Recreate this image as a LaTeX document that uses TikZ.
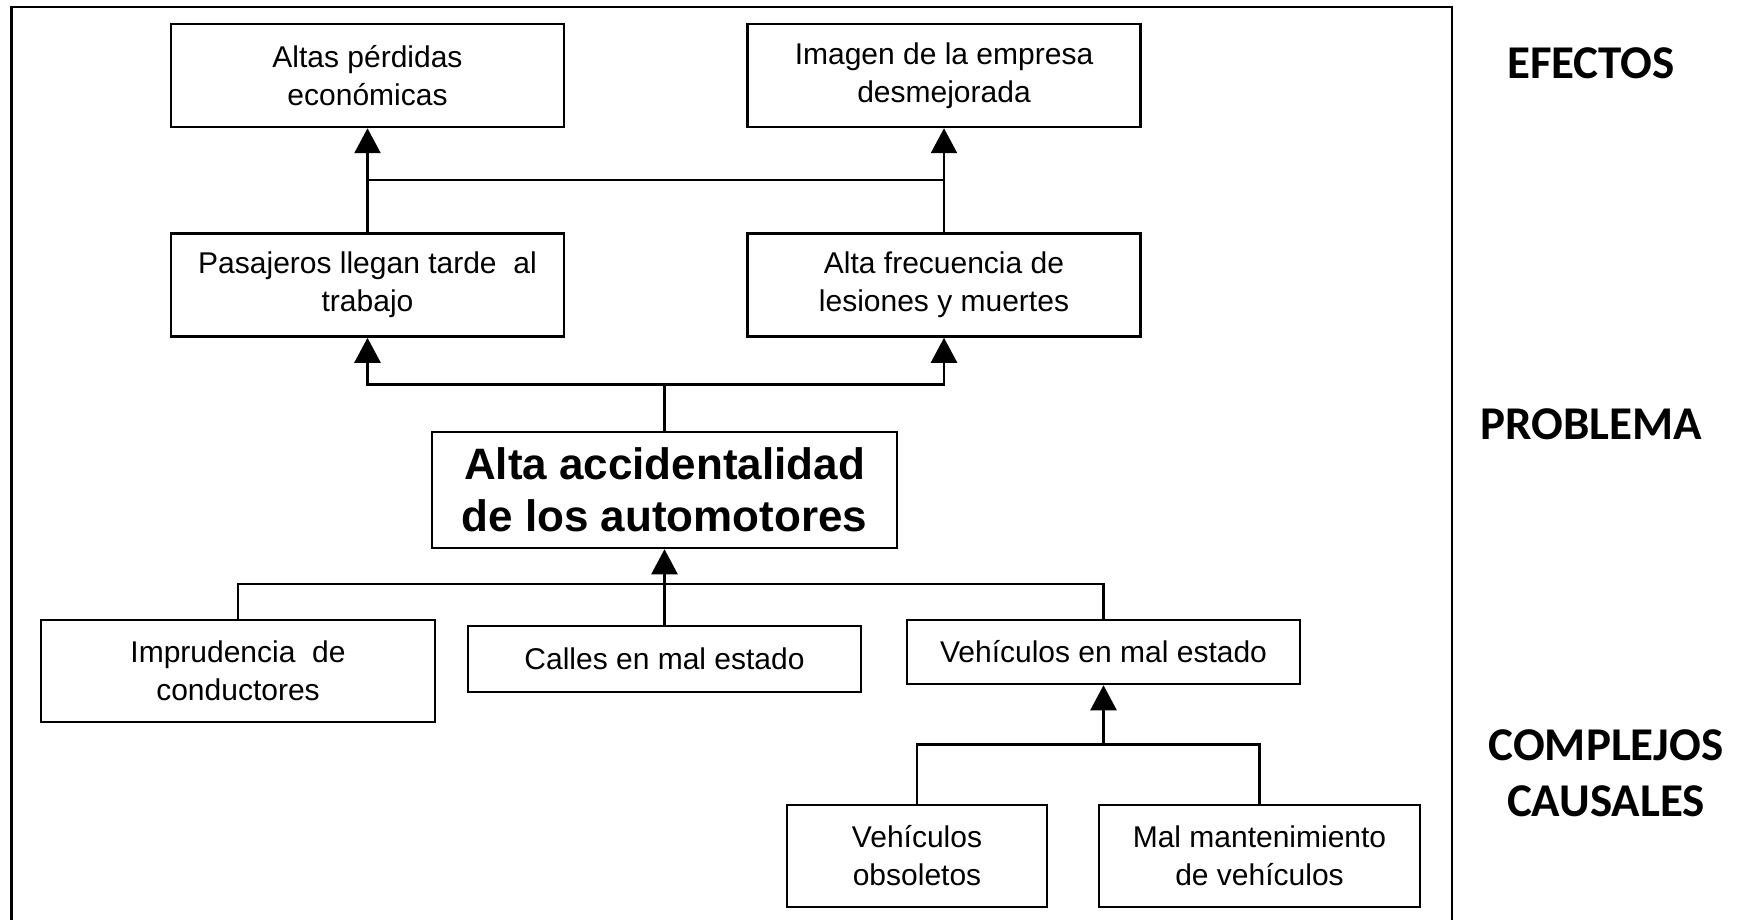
\documentclass[tikz,border=0pt]{standalone}
\usepackage{fontspec}
\setmainfont{Liberation Sans}
\newfontfamily\tagfont{Carlito}
\usetikzlibrary{arrows.meta,positioning,calc}

\begin{document}
\begin{tikzpicture}[x=1pt,y=-1pt,
  box/.style={draw,line width=2.5pt,minimum width=393pt,minimum height=103pt,inner sep=0pt,align=center,font=\fontsize{30}{38}\selectfont},
  probbox/.style={box,minimum width=465pt,minimum height=116pt,font=\fontsize{44}{52}\selectfont\bfseries},
  lnk/.style={line width=2.5pt},
  arr/.style={lnk,-{Triangle[length=25pt,width=26pt]}},
  lab/.style={font=\fontsize{47}{56}\selectfont\tagfont\bfseries,align=center}]
\useasboundingbox (0,0) rectangle (1745,920);
% marco
\draw[lnk] (11.5,930) -- (11.5,7) -- (1452,7) -- (1452,930);
% efectos
\node[box] (effL) at (367.5,75.5) {Altas pérdidas\\económicas};
\node[box] (effR) at (944,75.5) {Imagen de la empresa\\desmejorada};
\node[box] (midL) at (367.5,285) {Pasajeros llegan tarde\ \ al\\trabajo};
\node[box] (midR) at (944,285) {Alta frecuencia de\\lesiones y muertes};
% problema
\node[probbox] (prob) at (664.5,490) {Alta accidentalidad\\de los automotores};
% causas
\node[box,minimum width=394pt,minimum height=102pt] (impr) at (238,671) {Imprudencia\ \ de\\conductores};
\node[box,minimum height=66pt] (call) at (664.5,659) {Calles en mal estado};
\node[box,minimum height=64pt] (vehi) at (1103.5,652) {Vehículos en mal estado};
\node[box,minimum width=260pt,minimum height=102pt] (obso) at (917,856) {Vehículos\\obsoletos};
\node[box,minimum width=321pt,minimum height=102pt] (mant) at (1259.5,856) {Mal mantenimiento\\de vehículos};
% conectores
\coordinate (j1) at ($(effL.south)!0.5!(midL.north)$);
\draw[arr] (midL.north) -- (effL.south);
\draw[arr] (midR.north) -- (effR.south);
\draw[lnk] (j1) -- (j1 -| effR.south);
\coordinate (j2) at (prob.north |- {$(midL.south)!0.5!(prob.north)$});
\draw[lnk] (prob.north) -- (j2);
\draw[arr] (j2) -| (midL.south);
\draw[arr] (j2) -| (midR.south);
\coordinate (j3) at (prob.south |- {$(prob.south)!0.5!(impr.north)$});
\draw[arr] (call.north) -- (prob.south);
\draw[lnk] (impr.north) |- (j3) -| (vehi.north);
\coordinate (j4) at (vehi.south |- {$(vehi.south)!0.5!(obso.north)$});
\draw[arr] (j4) -- (vehi.south);
\draw[lnk] (obso.north) |- (j4) -| (mant.north);
% etiquetas
\node[lab] (efec) at (1591,63) {EFECTOS};
\node[lab] (prbl) at (1591,424) {PROBLEMA};
\node[lab] (caus) at (1606,773) {COMPLEJOS\\CAUSALES};
\end{tikzpicture}
\end{document}
